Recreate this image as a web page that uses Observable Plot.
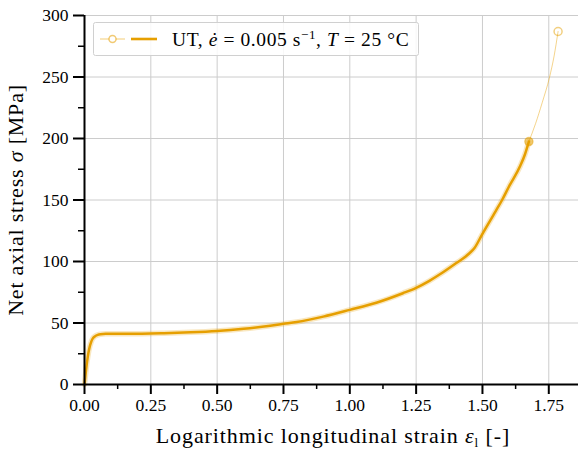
<!DOCTYPE html>
<html>
<head>
<meta charset="utf-8">
<script src="https://cdn.jsdelivr.net/npm/d3@7"></script>
<script src="https://cdn.jsdelivr.net/npm/@observablehq/plot@0.6"></script>
<style>
  body { margin: 0; background: #fff; }
  #chart { position: relative; width: 579px; height: 451px; }
</style>
</head>
<body>
<div id="chart"></div>
<script>
// Main test curve (strain, stress)
const strain = [0, 0.003, 0.006, 0.01, 0.015, 0.02, 0.025, 0.03, 0.04, 0.05, 0.06, 0.08, 0.1, 0.15, 0.2, 0.25, 0.3, 0.4, 0.5, 0.6, 0.7, 0.75, 0.8, 0.9, 1.0, 1.1, 1.2, 1.25, 1.3, 1.35, 1.4, 1.45, 1.47, 1.5, 1.55, 1.574, 1.6, 1.643, 1.66, 1.675];
const stress = [0, 6, 12, 19, 26, 31, 34.5, 37, 39.3, 40.4, 40.9, 41.2, 41.2, 41.2, 41.3, 41.4, 41.7, 42.4, 43.5, 45.3, 47.8, 49.3, 50.8, 55.2, 60.7, 66.5, 74.2, 78.6, 84.3, 91, 98.5, 106.5, 111, 122.5, 141, 150, 161, 178, 187, 197.5];
// Connector from last measured point to extrapolated fracture point
const extStrain = [1.675, 1.70, 1.725, 1.753, 1.77, 1.785];
const extStress = [197.5, 212, 229, 250, 267, 287];
const markerStrain = [1.675, 1.785];
const markerStress = [197.5, 287];

const xTicks = [0, 0.25, 0.5, 0.75, 1.0, 1.25, 1.5, 1.75];
const xTickLabels = ["0.00", "0.25", "0.50", "0.75", "1.00", "1.25", "1.50", "1.75"];
const xMinor = [0.125, 0.375, 0.625, 0.875, 1.125, 1.375, 1.625, 1.875];
const yTicks = [0, 50, 100, 150, 200, 250, 300];
const yMinor = [25, 75, 125, 175, 225, 275];

const main = strain.map((x, i) => ({x, y: stress[i]}));
const ext = extStrain.map((x, i) => ({x, y: extStress[i]}));
const markers = markerStrain.map((x, i) => ({x, y: markerStress[i]}));

const ORANGE = "#E69F00";
const FONT = "'Liberation Serif', 'DejaVu Serif', serif";

const plot = Plot.plot({
  width: 579,
  height: 451,
  marginLeft: 84,
  marginRight: 1,
  marginTop: 15,
  marginBottom: 67,
  style: { fontFamily: FONT, fontSize: "17.5px", color: "#000", background: "#fff" },
  x: { domain: [0, 1.862], label: null },
  y: { domain: [0, 300], label: null },
  marks: [
    Plot.gridX(xTicks, { stroke: "#cccccc", strokeOpacity: 1, strokeWidth: 1 }),
    Plot.gridY(yTicks, { stroke: "#cccccc", strokeOpacity: 1, strokeWidth: 1 }),
    Plot.line(ext, { x: "x", y: "y", stroke: ORANGE, strokeOpacity: 0.45, strokeWidth: 1, curve: "monotone-x" }),
    Plot.line(main, { x: "x", y: "y", stroke: ORANGE, strokeOpacity: 0.25, strokeWidth: 5.5, curve: "monotone-x" }),
    Plot.line(main, { x: "x", y: "y", stroke: ORANGE, strokeWidth: 2.5, curve: "monotone-x" }),
    Plot.dot(markers, { x: "x", y: "y", r: 4, stroke: ORANGE, strokeOpacity: 0.5, strokeWidth: 1.5, fill: (d, i) => i === 0 ? ORANGE : "none", fillOpacity: 0.5 }),
    Plot.axisX(xMinor, { tickSize: 5, strokeWidth: 1.5, text: null }),
    Plot.axisY(yMinor, { tickSize: 6, strokeWidth: 1.5, text: null }),
    Plot.axisX(xTicks, { tickSize: 10, strokeWidth: 2, tickPadding: 4, tickFormat: (d) => xTickLabels[xTicks.indexOf(d)], fontSize: 17.5 }),
    Plot.axisY(yTicks, { tickSize: 11, strokeWidth: 2, tickPadding: 5, fontSize: 17.5 }),
    Plot.ruleX([0], { stroke: "#000", strokeWidth: 2 }),
    Plot.ruleY([0], { stroke: "#000", strokeWidth: 2 })
  ]
});

document.getElementById("chart").appendChild(plot);

const svg = d3.select(plot);

// Axis titles
const xt = svg.append("text")
  .attr("x", 333).attr("y", 443)
  .attr("text-anchor", "middle")
  .attr("font-family", FONT).attr("font-size", 22).attr("letter-spacing", "0.9px").attr("fill", "#000");
xt.append("tspan").text("Logarithmic longitudinal strain ");
xt.append("tspan").attr("font-style", "italic").text("ε");
xt.append("tspan").attr("font-size", 13).attr("dy", 4).text("l");
xt.append("tspan").attr("dy", -4).text(" [-]");

const yt = svg.append("text")
  .attr("transform", "translate(23,200) rotate(-90)")
  .attr("text-anchor", "middle")
  .attr("font-family", FONT).attr("font-size", 22).attr("letter-spacing", "0.8px").attr("fill", "#000");
yt.append("tspan").text("Net axial stress ");
yt.append("tspan").attr("font-style", "italic").text("σ");
yt.append("tspan").text(" [MPa]");

// Legend
const lg = svg.append("g");
lg.append("rect").attr("x", 93.5).attr("y", 22.5).attr("width", 325).attr("height", 33)
  .attr("rx", 2).attr("fill", "#fff").attr("fill-opacity", 0.85).attr("stroke", "#d0d0d0").attr("stroke-width", 1);
lg.append("line").attr("x1", 100).attr("x2", 125).attr("y1", 39).attr("y2", 39)
  .attr("stroke", ORANGE).attr("stroke-opacity", 0.45).attr("stroke-width", 1.2);
lg.append("circle").attr("cx", 112.5).attr("cy", 39).attr("r", 3.5)
  .attr("fill", "#fff").attr("stroke", ORANGE).attr("stroke-opacity", 0.55).attr("stroke-width", 1.5);
lg.append("line").attr("x1", 131).attr("x2", 157).attr("y1", 39).attr("y2", 39)
  .attr("stroke", ORANGE).attr("stroke-width", 2.6);
const lt = lg.append("text").attr("x", 172).attr("y", 45.5)
  .attr("text-anchor", "start")
  .attr("font-family", FONT).attr("font-size", 19.5).attr("letter-spacing", "0.6px").attr("fill", "#000");
lt.append("tspan").text("UT, ");
lt.append("tspan").attr("font-style", "italic").text("ė");
lt.append("tspan").text(" = 0.005 s");
lt.append("tspan").attr("font-size", 13).attr("dy", -7).text("−1");
lt.append("tspan").attr("dy", 7).text(", ");
lt.append("tspan").attr("font-style", "italic").text("T");
lt.append("tspan").text(" = 25 °C");
</script>
</body>
</html>
